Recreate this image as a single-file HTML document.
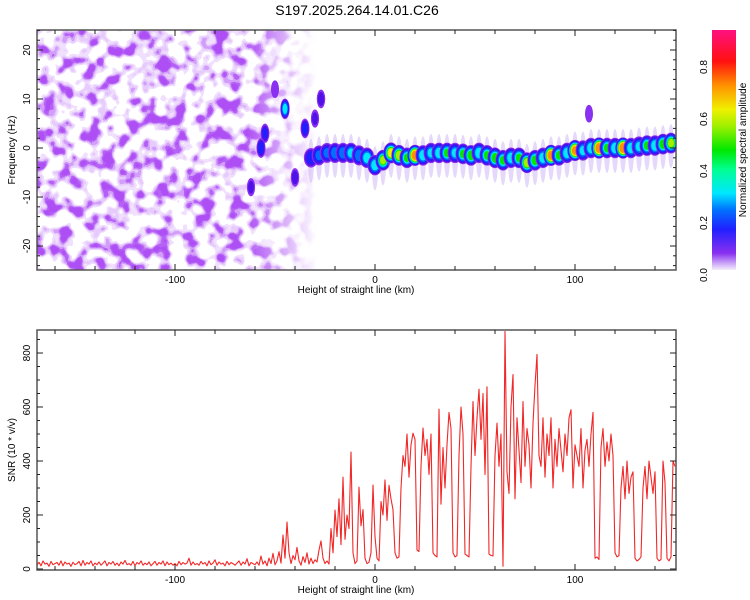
<!DOCTYPE html>
<html><head><meta charset="utf-8"><style>
body{margin:0;background:#fff;font-family:"Liberation Sans",sans-serif}
svg{display:block}
text{font-family:"Liberation Sans",sans-serif;fill:#000}
</style></head><body>
<svg id="c" width="750" height="600" viewBox="0 0 750 600">
<defs>
<filter id="noise" x="0" y="0" width="100%" height="100%">
<feTurbulence type="fractalNoise" baseFrequency="0.07" numOctaves="2" seed="11" result="t"/>
<feColorMatrix in="t" type="matrix" values="0 0 0 0 0.42  0 0 0 0 0.08  0 0 0 0 0.9  3.2 0 0 0 -1.3"/>
<feComponentTransfer><feFuncA type="discrete" tableValues="0 0.18 0.3 0.55 0.9 1"/></feComponentTransfer>
</filter>
<linearGradient id="fade" x1="0" x2="1" y1="0" y2="0">
<stop offset="0" stop-color="#fff"/><stop offset="0.75" stop-color="#fff"/><stop offset="1" stop-color="#000"/>
</linearGradient>
<mask id="m"><rect x="37" y="30" width="280" height="240" fill="url(#fade)"/></mask>
<clipPath id="clipTop"><rect x="37" y="30" width="639" height="240"/></clipPath>
<clipPath id="clipBot"><rect x="37" y="330" width="639" height="240"/></clipPath>
<linearGradient id="cbar" x1="0" y1="1" x2="0" y2="0">
<stop offset="0" stop-color="#f4eefc"/><stop offset="0.03" stop-color="#c8a0f8"/><stop offset="0.07" stop-color="#8a30f0"/>
<stop offset="0.17" stop-color="#2020ff"/><stop offset="0.25" stop-color="#0070ff"/><stop offset="0.32" stop-color="#00e8ff"/>
<stop offset="0.42" stop-color="#00ff90"/><stop offset="0.5" stop-color="#00e800"/><stop offset="0.6" stop-color="#a0f000"/>
<stop offset="0.67" stop-color="#f0f000"/><stop offset="0.77" stop-color="#ff9000"/><stop offset="0.87" stop-color="#ff1010"/>
<stop offset="1" stop-color="#ff1080"/>
</linearGradient>
</defs>
<text x="357" y="15" text-anchor="middle" font-size="14">S197.2025.264.14.01.C26</text>
<g id="top">
<rect x="37" y="30" width="280" height="240" filter="url(#noise)" mask="url(#m)"/>
<g id="ridge" clip-path="url(#clipTop)"></g>
</g>
<g id="bot"><g id="snr" clip-path="url(#clipBot)"></g></g>
<g id="axes"></g>
<rect x="712" y="30" width="24" height="240" fill="url(#cbar)"/>
<g id="cbaxis"></g>
<text transform="translate(746,150) rotate(-90)" x="0" y="0" text-anchor="middle" font-size="10">Normalized spectral amplitude</text>
<text x="356" y="293" text-anchor="middle" font-size="10">Height of straight line (km)</text>
<text x="356" y="593" text-anchor="middle" font-size="10">Height of straight line (km)</text>
<text transform="translate(15,150) rotate(-90)" text-anchor="middle" font-size="10">Frequency (Hz)</text>
<text transform="translate(15,450) rotate(-90)" text-anchor="middle" font-size="10">SNR (10 * v/v)</text>
</svg>
<script>
const xTicks=[-100,0,100];
const topYTicks=[-20,-10,0,10,20];
const botYTicks=[0,200,400,600,800];
const cbTicks=[0.0,0.2,0.4,0.6,0.8];
const ridgeKm=[-32,-28,-24,-20,-16,-12,-8,-4,0,4,8,12,16,20,24,28,32,36,40,44,48,52,56,60,64,68,72,76,80,84,88,92,96,100,104,108,112,116,120,124,128,132,136,140,144,148];
const ridgeHz=[-2,-1.5,-1,-1,-1,-1,-1.5,-2,-3.5,-2.5,-1,-1.5,-2,-1.5,-1.5,-1,-1,-1,-1,-1.2,-1.5,-1,-1.5,-2,-2.5,-2,-2,-3,-2.5,-2,-1.5,-1.5,-1,-0.5,-0.5,0,0,0,0,0,0,0.3,0.5,0.5,0.8,1];
const ridgeAmp=[.25,.3,.3,.35,.35,.4,.35,.45,.45,.6,.7,.65,.5,.9,.45,.4,.45,.5,.4,.5,.55,.45,.5,.55,.5,.45,.5,.65,.55,.45,.9,.5,.45,.85,.4,.45,.95,.5,.45,.95,.45,.4,.5,.45,.55,.6];
const featKm=[-45,-55,-57,-35,-27,-50,-40,-62,-30,107];
const featHz=[8,3,0,4,10,12,-6,-8,6,7];
const featAmp=[.45,.2,.25,.25,.15,.1,.15,.12,.12,.1];
const snrStart=-169;
const snr=[15,25,12,30,18,22,10,28,16,20,24,14,30,12,26,18,22,10,25,16,20,28,12,32,14,24,18,30,12,22,16,26,14,22,30,12,24,18,28,14,22,12,26,18,32,16,20,14,28,12,24,18,30,14,22,16,26,12,20,28,14,24,18,30,12,26,16,22,14,20,12,28,16,24,18,22,40,14,26,16,20,14,28,18,24,12,30,16,22,34,14,26,18,22,12,28,16,24,20,14,22,30,14,26,18,38,12,24,20,16,26,14,48,18,30,12,40,20,58,16,30,64,22,126,40,174,60,20,50,34,80,30,14,46,24,60,18,40,20,34,26,70,104,40,20,30,18,150,60,218,120,260,90,340,110,200,150,433,60,20,30,303,160,220,40,20,25,60,311,120,40,30,250,200,330,180,310,260,220,60,40,45,300,420,380,500,340,460,503,480,70,65,380,522,420,480,350,500,60,50,45,592,240,450,300,460,580,520,60,45,50,420,600,500,55,50,45,380,620,420,560,666,480,650,350,675,55,50,48,420,540,380,500,10,880,360,280,600,720,260,560,440,320,620,380,520,460,300,540,680,795,420,380,560,340,500,420,560,300,480,380,520,440,360,500,420,560,590,300,460,420,380,520,300,440,480,380,500,580,40,45,35,450,520,380,470,400,500,420,60,45,50,300,380,260,400,280,340,360,40,30,35,45,300,380,260,400,340,280,360,40,30,35,400,320,40,30,45,400,380];

const NS='http://www.w3.org/2000/svg';
const X=k=>375+2*k;
const YT=h=>148-4.9*h;
const YB=v=>569-0.27*v;
const YC=a=>275-260*a;
function mk(tag,attrs,parent){const e=document.createElementNS(NS,tag);for(const k in attrs)e.setAttribute(k,attrs[k]);parent.appendChild(e);return e;}
const cmap=[[0,'#e8d8fa'],[0.05,'#8a30f0'],[0.12,'#5010e8'],[0.17,'#2020ff'],[0.25,'#0070ff'],[0.32,'#00e8ff'],[0.42,'#00ff90'],[0.5,'#00e800'],[0.6,'#a0f000'],[0.67,'#f0f000'],[0.77,'#ff9000'],[0.87,'#ff1010']];
function col(a){let c=cmap[0][1];for(const s of cmap)if(a>=s[0])c=s[1];return c;}
const ridge=document.getElementById('ridge');
const levels=[0.05,0.12,0.2,0.3,0.4,0.5,0.6,0.7,0.8];
function blob(km,hz,amp,w,streak){
  const cx=X(km),cy=YT(hz);
  let e;
  if(streak){
    e=mk('ellipse',{cx:cx,cy:cy+3,rx:3,ry:22,fill:'#b890f0','fill-opacity':0.35},ridge);
    
    
  }
  for(const L of levels){
    if(amp<L)break;
    const s=1-(L/(amp+0.08))*0.7;
    e=mk('ellipse',{cx:cx,cy:cy,rx:w*s,ry:11*s,fill:col(L)},ridge);
    
    
  }
}
ridgeKm.forEach((k,i)=>blob(k,ridgeHz[i],ridgeAmp[i],8,true));
featKm.forEach((k,i)=>blob(k,featHz[i],featAmp[i],5,false));

let d='';
snr.forEach((v,i)=>{d+=(i?'L':'M')+X(snrStart+i).toFixed(1)+','+YB(v).toFixed(1);});
const line=mk('path',{d:d,fill:'none',stroke:'#f02828','stroke-width':1.1,'stroke-linejoin':'round'},document.getElementById('snr'));



const ax=document.getElementById('axes');
function frame(y0,h,name){
  const r=mk('rect',{x:37,y:y0,width:639,height:h,fill:'none',stroke:'#555','stroke-width':1.5},ax);
  
  
}
frame(30,240,'top-plot-frame');frame(330,240,'bottom-plot-frame');
function tick(x1,y1,x2,y2){mk('line',{x1:x1,y1:y1,x2:x2,y2:y2,stroke:'#222','stroke-width':1},ax);}
for(let k=-160;k<=140;k+=20){
  const len=(k%100===0)?6:4;
  [[30,270],[330,570]].forEach(([t,b])=>{tick(X(k),t,X(k),t+len);tick(X(k),b,X(k),b-len);});
}
xTicks.forEach(k=>{
  [283,583].forEach(y=>{const t=mk('text',{x:X(k),y:y,'text-anchor':'middle','font-size':10},ax);t.textContent=k;
  
  });
});
for(let h=-24;h<=24;h+=2){const len=(h%10===0)?6:3;tick(37,YT(h),37+len,YT(h));tick(676,YT(h),676-len,YT(h));}
topYTicks.forEach(h=>{const t=mk('text',{transform:`translate(30,${YT(h)}) rotate(-90)`,'text-anchor':'middle','font-size':10},ax);t.textContent=h;
  
  });
for(let v=0;v<=880;v+=50){const len=(v%200===0)?6:3;tick(37,YB(v),37+len,YB(v));tick(676,YB(v),676-len,YB(v));}
botYTicks.forEach(v=>{const t=mk('text',{transform:`translate(30,${YB(v)}) rotate(-90)`,'text-anchor':'middle','font-size':10},ax);t.textContent=v;
  
  });
const cb=document.getElementById('cbaxis');
cbTicks.forEach(a=>{const t=mk('text',{transform:`translate(707,${YC(a)}) rotate(-90)`,'text-anchor':'middle','font-size':10},cb);t.textContent=a.toFixed(1);
  
  });
</script>
</body></html>
